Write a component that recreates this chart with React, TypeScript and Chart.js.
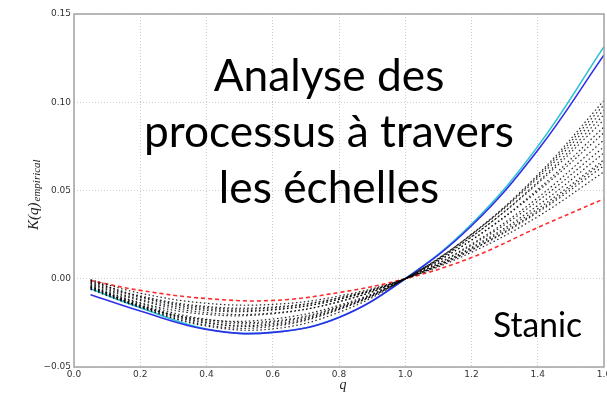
import React, { useEffect, useRef } from "react";
import { Chart, registerables } from "chart.js";

Chart.register(...registerables);

// q values where each curve is sampled
const Q = [0.05, 0.2, 0.4, 0.6, 0.8, 1.0, 1.2, 1.4, 1.6];

// K(q) empirical curves
const cyanK = [-0.0057, -0.0164, -0.0285, -0.0304, -0.0218, 0, 0.031, 0.075, 0.1315];
const blueK = [-0.009, -0.0183, -0.0287, -0.0304, -0.0219, 0, 0.03, 0.0728, 0.1268];
const redK = [-0.001, -0.0066, -0.0112, -0.0123, -0.0078, 0, 0.012, 0.029, 0.0453];

const black01 = [-0.0005, -0.0082, -0.0139, -0.0145, -0.0098, 0, 0.015, 0.0352, 0.0606];
const black02 = [-0.0015, -0.0097, -0.0157, -0.016, -0.0108, 0, 0.0164, 0.0384, 0.0661];
const black03 = [-0.0025, -0.0117, -0.0179, -0.0177, -0.0117, 0, 0.0172, 0.0397, 0.0674];
const black04 = [-0.002, -0.0107, -0.0171, -0.0174, -0.0117, 0, 0.0177, 0.0415, 0.0713];
const black05 = [-0.0035, -0.0136, -0.0202, -0.0198, -0.013, 0, 0.019, 0.044, 0.0747];
const black06 = [-0.003, -0.0124, -0.0192, -0.0194, -0.013, 0, 0.0196, 0.0459, 0.0787];
const black07 = [-0.0045, -0.014, -0.023, -0.024, -0.0158, 0, 0.0219, 0.0496, 0.0827];
const black08 = [-0.004, -0.0156, -0.0232, -0.0228, -0.015, 0, 0.0219, 0.0506, 0.086];
const black09 = [-0.005, -0.015, -0.0248, -0.0262, -0.0172, 0, 0.0238, 0.054, 0.09];
const black10 = [-0.0045, -0.0148, -0.024, -0.0246, -0.0162, 0, 0.0237, 0.0548, 0.093];
const black11 = [-0.006, -0.0163, -0.0268, -0.0284, -0.019, 0, 0.025, 0.057, 0.0957];
const black12 = [-0.0055, -0.016, -0.0262, -0.027, -0.0175, 0, 0.0252, 0.0581, 0.0985];
const black13 = [-0.005, -0.0155, -0.0252, -0.0255, -0.0168, 0, 0.0252, 0.0589, 0.101];
const black14 = [-0.001, -0.0101, -0.0163, -0.0165, -0.0109, 0, 0.0162, 0.0376, 0.064];

const blackSeries = [
  black01, black02, black03, black04, black05, black06, black07,
  black08, black09, black10, black11, black12, black13, black14,
];

const xTicks = [0, 0.2, 0.4, 0.6, 0.8, 1.0, 1.2, 1.4, 1.6];
const yTicks = [-0.05, 0, 0.05, 0.1, 0.15];

const overlayLines = ["Analyse des", "processus à travers", "les échelles"];
const signature = "Stanic";
const yTitleMain = "K(q)";
const yTitleSub = "empirical";
const xTitle = "q";

const overlayPlugin = {
  id: "overlayText",
  afterDraw(chart: any) {
    const ctx: CanvasRenderingContext2D = chart.ctx;
    const { left, top, right, bottom } = chart.chartArea;

    // frame (spines)
    ctx.save();
    ctx.strokeStyle = "#a3a3a3";
    ctx.lineWidth = 1.5;
    ctx.strokeRect(left, top, right - left, bottom - top);
    ctx.restore();

    // y title (rotated, with subscript)
    ctx.save();
    ctx.rotate(-Math.PI / 2);
    ctx.fillStyle = "#222";
    ctx.textAlign = "left";
    ctx.textBaseline = "alphabetic";
    ctx.font = "italic 15px 'Liberation Serif'";
    const startX = -230;
    ctx.fillText(yTitleMain, startX, 38);
    const wMain = ctx.measureText(yTitleMain).width;
    ctx.font = "italic 11px 'Liberation Serif'";
    ctx.fillText(yTitleSub, startX + wMain + 1, 40);
    ctx.restore();

    // x title
    ctx.save();
    ctx.fillStyle = "#222";
    ctx.font = "italic 14px 'Liberation Serif'";
    ctx.textAlign = "center";
    ctx.textBaseline = "alphabetic";
    ctx.fillText(xTitle, (left + right) / 2 + 4, 389);
    ctx.restore();

    // big overlay text
    ctx.save();
    ctx.fillStyle = "#000";
    ctx.font = "44px Lato";
    const wRef = ctx.measureText(overlayLines[1]).width;
    const sx = 370 / wRef;
    const baselines = [91, 147, 203];
    overlayLines.forEach((t, i) => {
      ctx.save();
      ctx.translate(329, baselines[i]);
      ctx.scale(sx, 1);
      ctx.textAlign = "center";
      ctx.fillText(t, 0, 0);
      ctx.restore();
    });
    ctx.font = "34px Lato";
    const wSig = ctx.measureText(signature).width;
    ctx.save();
    ctx.translate(493, 337);
    ctx.scale(89 / wSig, 1);
    ctx.textAlign = "left";
    ctx.fillText(signature, 0, 0);
    ctx.restore();
    ctx.restore();
  },
};

export default function App() {
  const ref = useRef<HTMLCanvasElement>(null);

  useEffect(() => {
    const canvas = ref.current;
    if (!canvas) return;
    const mk = (arr: number[]) => Q.map((q, i) => ({ x: q, y: arr[i] }));
    const common = {
      pointRadius: 0,
      fill: false,
      tension: 0.4,
    };
    const datasets: any[] = [
      ...blackSeries.map((arr) => ({
        ...common,
        data: mk(arr),
        borderColor: "rgba(0,0,0,0.85)",
        borderWidth: 1.2,
        borderDash: [1.5, 2.5],
      })),
      { ...common, data: mk(redK), borderColor: "#ff2b2b", borderWidth: 1.6, borderDash: [4, 3] },
      { ...common, data: mk(blueK), borderColor: "#2f2fe8", borderWidth: 1.6 },
      { ...common, data: mk(cyanK), borderColor: "#2ec2d6", borderWidth: 1.6 },
    ];

    const tickFont = { family: "'DejaVu Sans'", size: 9 };
    const chart = new Chart(canvas, {
      type: "line",
      data: { datasets },
      options: {
        animation: false,
        responsive: false,
        devicePixelRatio: 1,
        layout: { padding: { left: 0, top: 14, right: 3, bottom: 0 } },
        plugins: { legend: { display: false }, tooltip: { enabled: false } },
        scales: {
          x: {
            type: "linear",
            min: 0,
            max: 1.6,
            afterBuildTicks: (s: any) => {
              s.ticks = xTicks.map((v) => ({ value: v }));
            },
            afterFit: (s: any) => {
              s.height = 28;
              s.paddingLeft = 0;
              s.paddingRight = 0;
            },
            ticks: {
              callback: (v: any) => Number(v).toFixed(1),
              font: tickFont,
              color: "#333",
              padding: 2,
              maxRotation: 0,
              autoSkip: false,
            },
            grid: { color: "#cdcdcd", lineWidth: 1, drawTicks: false },
            border: { display: false, dash: [1, 2] },
          },
          y: {
            type: "linear",
            min: -0.05,
            max: 0.15,
            afterBuildTicks: (s: any) => {
              s.ticks = yTicks.map((v) => ({ value: v }));
            },
            afterFit: (s: any) => {
              s.width = 74;
              s.paddingTop = 0;
              s.paddingBottom = 0;
            },
            ticks: {
              callback: (v: any) => Number(v).toFixed(2).replace("-", "\u2212"),
              font: tickFont,
              color: "#333",
              padding: 3,
              autoSkip: false,
            },
            grid: { color: "#cdcdcd", lineWidth: 1, drawTicks: false },
            border: { display: false, dash: [1, 2] },
          },
        },
      } as any,
      plugins: [overlayPlugin],
    });
    return () => chart.destroy();
  }, []);

  return (
    <div style={{ position: "absolute", left: 0, top: 0, width: 607, height: 395, background: "#fff" }}>
      <canvas ref={ref} width={607} height={395} style={{ display: "block" }} />
    </div>
  );
}
